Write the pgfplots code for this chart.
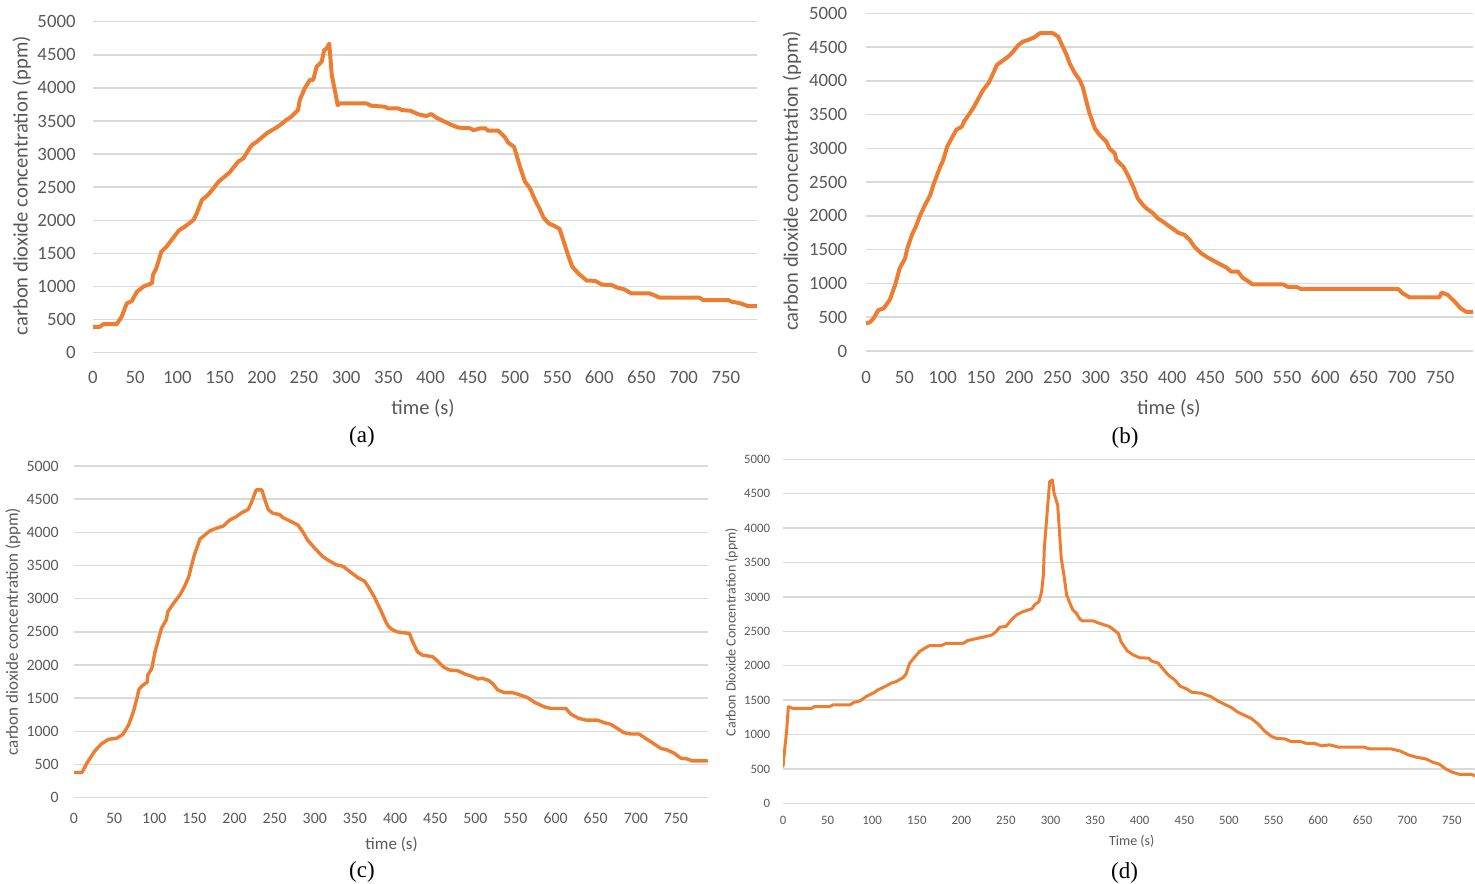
\documentclass[border=0pt]{standalone}
\usepackage{fontspec}
\setmainfont{Carlito}
\newfontfamily\timesfont{Liberation Serif}
\usepackage{pgfplots}
\pgfplotsset{compat=1.18}
\definecolor{exorange}{HTML}{ED7D31}
\definecolor{gridgray}{HTML}{D9D9D9}
\definecolor{txtgray}{HTML}{595959}
\pgfplotsset{
  panel/.style={
    scale only axis, anchor=south west,
    xmin=0, ymin=0, ymax=5000,
    axis line style={draw=none}, major tick length=0pt,
    ymajorgrids, grid style={draw=gridgray, line width=0.75pt},
    ytick={0,500,...,5000}, xtick={0,50,...,750},
    scaled ticks=false,
    /pgf/number format/1000 sep={},
    /pgf/number format/assume math mode=true,
    tick label style={text=txtgray},
    label style={text=txtgray},
    yticklabel style={anchor=east, inner sep=0pt},
    xticklabel style={anchor=center, inner sep=0pt},
  },
  curve/.style={exorange, line width=2pt, line join=round, line cap=round, no markers},
}
\begin{document}
\begin{tikzpicture}
\useasboundingbox (0,0) rectangle (737.5pt,441.5pt);
% (a)
\begin{axis}[panel, at={(46.5pt,265.15pt)}, width=332pt, height=165.5pt, xmax=787,
  tick label style={font=\fontsize{9.4}{10}\selectfont},
  yticklabel style={xshift=-8.5pt},
  xticklabel style={yshift=-12.5pt},
  xlabel={time (s)}, ylabel={carbon dioxide concentration (ppm)},
  label style={font=\fontsize{10.3}{12}\selectfont},
  xlabel style={at={(axis description cs:0.497,-0.167)}, anchor=center},
  ylabel style={at={(axis description cs:-0.1072,0.505)}, anchor=center}]
\addplot[curve] coordinates {(0,390)(8,390)(12,430)(28,430)(34,545)(40,745)(46,780)(52,920)(60,1000)(70,1050)(71,1175)(75,1275)(81,1525)(87,1600)(93,1700)(102,1850)(109,1905)(119,2005)(123,2105)(129,2305)(136,2380)(141,2455)(149,2585)(156,2660)(162,2725)(172,2885)(178,2935)(188,3135)(194,3185)(206,3315)(216,3390)(222,3440)(229,3515)(235,3565)(243,3665)(245,3815)(251,3995)(257,4120)(261,4120)(265,4320)(271,4395)(274,4570)(277,4595)(280,4670)(283,4195)(287,3940)(290,3740)(293,3765)(324,3765)(330,3730)(346,3715)(350,3690)(362,3690)(366,3665)(376,3655)(386,3600)(395,3575)(401,3605)(407,3550)(415,3500)(425,3440)(433,3400)(447,3390)(451,3360)(459,3390)(465,3390)(468,3355)(480,3355)(488,3260)(492,3175)(499,3110)(502,2985)(506,2810)(512,2585)(518,2480)(524,2305)(530,2155)(534,2040)(540,1955)(546,1920)(553,1870)(558,1675)(563,1475)(568,1300)(575,1200)(585,1090)(595,1085)(603,1030)(615,1020)(621,985)(630,955)(638,895)(660,895)(672,830)(719,830)(723,795)(753,795)(757,770)(766,750)(776,705)(787,705)};
\end{axis}
% (b)
\begin{axis}[panel, at={(433pt,266pt)}, width=303.5pt, height=168.85pt, xmax=793,
  tick label style={font=\fontsize{9.4}{10}\selectfont},
  yticklabel style={xshift=-9.25pt},
  xticklabel style={yshift=-13pt},
  xlabel={time (s)}, ylabel={carbon dioxide concentration (ppm)},
  label style={font=\fontsize{10.3}{12}\selectfont},
  xlabel style={at={(axis description cs:0.499,-0.169)}, anchor=center},
  ylabel style={at={(axis description cs:-0.122,0.504)}, anchor=center}]
\addplot[curve] coordinates {(0,410)(5,425)(10,485)(16,605)(23,630)(31,755)(38,975)(44,1225)(51,1370)(54,1520)(60,1720)(66,1865)(70,1990)(77,2160)(84,2310)(88,2460)(97,2730)(101,2830)(106,3025)(112,3150)(118,3275)(125,3320)(128,3395)(134,3495)(140,3595)(147,3740)(153,3865)(160,3965)(164,4060)(171,4235)(177,4285)(186,4360)(192,4430)(199,4530)(205,4580)(214,4615)(220,4645)(227,4705)(244,4705)(251,4655)(255,4555)(262,4385)(266,4260)(273,4110)(279,4015)(283,3915)(288,3690)(292,3520)(299,3295)(305,3200)(314,3100)(318,3000)(325,2925)(327,2830)(336,2730)(342,2605)(349,2435)(355,2260)(362,2160)(366,2115)(375,2040)(381,1965)(388,1915)(397,1840)(399,1825)(408,1750)(416,1720)(423,1645)(429,1545)(438,1445)(447,1380)(460,1300)(471,1235)(477,1175)(486,1175)(492,1085)(499,1035)(505,985)(545,985)(551,950)(562,950)(568,920)(695,920)(701,855)(710,795)(749,795)(752,865)(760,830)(769,730)(777,630)(784,580)(794,580)};
\end{axis}
% (c)
\begin{axis}[panel, at={(37pt,42.65pt)}, width=317pt, height=165.85pt, xmax=790,
  tick label style={font=\fontsize{7.9}{9}\selectfont},
  yticklabel style={xshift=-7.5pt},
  xticklabel style={yshift=-10.15pt},
  xlabel={time (s)}, ylabel={carbon dioxide concentration (ppm)},
  label style={font=\fontsize{8.5}{10}\selectfont},
  xlabel style={at={(axis description cs:0.501,-0.1396)}, anchor=center},
  ylabel style={at={(axis description cs:-0.0962,0.501)}, anchor=center}]
\addplot[curve, line width=1.7pt] coordinates {(0,380)(10,380)(16,520)(26,705)(34,810)(43,880)(53,895)(61,955)(68,1095)(74,1295)(78,1480)(81,1635)(86,1700)(91,1735)(92,1850)(97,1950)(101,2200)(105,2375)(109,2555)(115,2680)(117,2805)(124,2930)(132,3055)(138,3190)(143,3330)(146,3480)(150,3660)(157,3900)(163,3960)(169,4020)(177,4060)(186,4095)(194,4185)(202,4235)(209,4295)(217,4345)(221,4445)(227,4640)(234,4640)(238,4485)(242,4345)(248,4285)(256,4270)(260,4225)(271,4160)(279,4110)(285,4010)(291,3885)(300,3760)(310,3635)(318,3570)(327,3510)(335,3490)(343,3415)(354,3315)(362,3265)(368,3155)(374,3030)(383,2805)(389,2640)(392,2580)(397,2530)(403,2500)(418,2475)(422,2350)(428,2200)(434,2150)(447,2125)(453,2060)(461,1965)(468,1925)(478,1915)(488,1860)(499,1815)(503,1790)(509,1800)(517,1765)(522,1715)(528,1625)(536,1585)(546,1585)(553,1560)(565,1510)(575,1430)(586,1370)(594,1345)(613,1345)(619,1260)(629,1195)(638,1170)(652,1170)(661,1130)(669,1105)(677,1045)(685,980)(694,960)(704,960)(714,880)(723,810)(731,745)(739,720)(748,670)(756,595)(764,585)(770,555)(789,555)};
\end{axis}
% (d)
\begin{axis}[panel, at={(391.5pt,39.85pt)}, width=346pt, height=172pt, xmax=776,
  tick label style={font=\fontsize{6.4}{7.5}\selectfont},
  yticklabel style={xshift=-6.25pt},
  xticklabel style={yshift=-8.35pt},
  xlabel={Time (s)}, ylabel={Carbon Dioxide Concentration (ppm)},
  label style={font=\fontsize{7}{8.5}\selectfont},
  xlabel style={at={(axis description cs:0.504,-0.1116)}, anchor=center},
  ylabel style={at={(axis description cs:-0.0744,0.498)}, anchor=center}]
\addplot[curve, line width=1.5pt] coordinates {(0,535)(2,800)(4,1040)(6,1405)(11,1380)(32,1380)(35,1405)(52,1405)(56,1430)(75,1430)(80,1470)(86,1485)(93,1550)(103,1615)(106,1645)(114,1695)(121,1745)(127,1770)(135,1830)(138,1880)(142,2035)(148,2130)(153,2205)(159,2255)(164,2290)(177,2290)(183,2325)(202,2325)(207,2365)(219,2400)(226,2420)(234,2445)(239,2495)(243,2560)(250,2570)(256,2665)(262,2740)(269,2785)(275,2810)(279,2825)(282,2885)(287,2930)(290,3075)(292,3320)(293,3705)(296,4190)(299,4675)(302,4700)(304,4505)(308,4335)(310,3950)(312,3560)(315,3320)(318,3030)(321,2930)(325,2810)(329,2760)(333,2675)(336,2650)(348,2650)(353,2625)(361,2590)(366,2570)(372,2510)(376,2470)(379,2350)(386,2215)(393,2155)(400,2115)(410,2110)(413,2070)(421,2035)(425,1970)(432,1865)(440,1785)(445,1705)(453,1660)(458,1615)(469,1600)(480,1550)(488,1485)(495,1440)(503,1390)(510,1325)(518,1275)(525,1235)(533,1150)(540,1050)(548,970)(553,945)(563,935)(570,895)(581,895)(587,870)(596,870)(604,835)(613,850)(623,815)(652,815)(658,790)(682,790)(692,760)(701,705)(710,670)(721,645)(729,595)(736,570)(743,500)(751,450)(759,420)(772,420)(776,400)};
\end{axis}
\node[font=\timesfont\fontsize{11.5}{13}\selectfont, text=black] at (181pt,223pt) {(a)};
\node[font=\timesfont\fontsize{11.5}{13}\selectfont, text=black] at (562.5pt,222.5pt) {(b)};
\node[font=\timesfont\fontsize{11.5}{13}\selectfont, text=black] at (181pt,5.5pt) {(c)};
\node[font=\timesfont\fontsize{11.5}{13}\selectfont, text=black] at (562.25pt,5.15pt) {(d)};
\end{tikzpicture}
\end{document}
